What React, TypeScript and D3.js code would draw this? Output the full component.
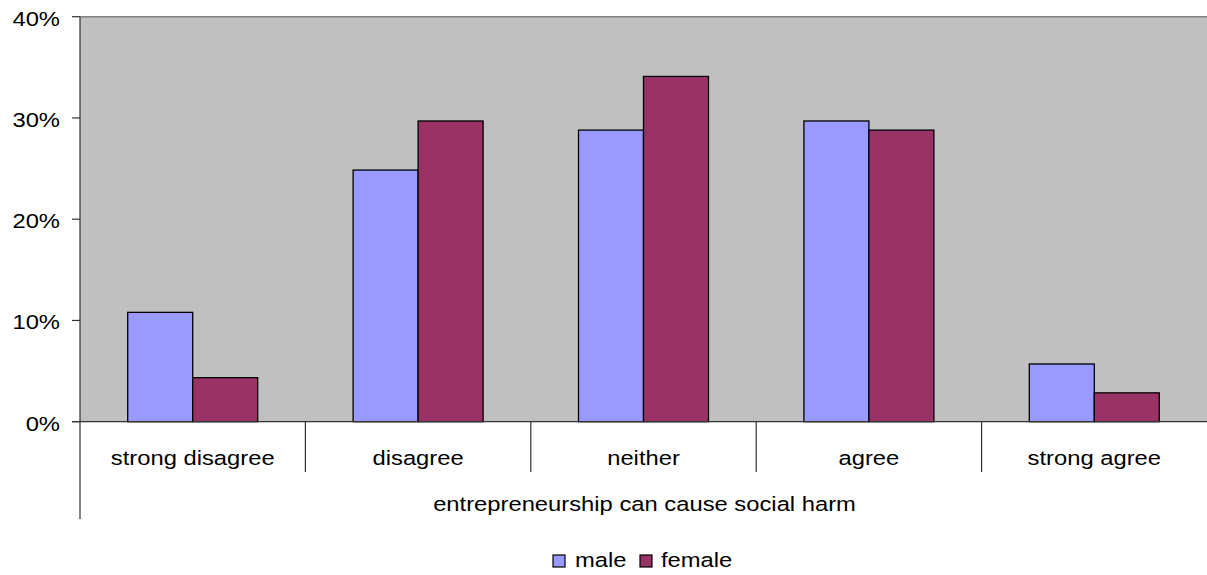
import React from "react";
import * as d3 from "d3";

const categories = ["strong disagree", "disagree", "neither", "agree", "strong agree"];
const seriesNames = ["male", "female"];
const maleValues = [10.8, 24.85, 28.8, 29.7, 5.7];
const femaleValues = [4.35, 29.7, 34.1, 28.8, 2.85];
const yTicks = [0, 10, 20, 30, 40];
const axisTitle = "entrepreneurship can cause social harm";
const colors = ["#9999FF", "#993366"];

const W = 1207;
const H = 575;
const left = 80;
const right = 1207;
const top = 16.7;
const bottom = 421.7;
const SX = 1.16;
const FS = 20.5;
const FONT = "'Liberation Sans', Arial, sans-serif";

function T({ x, y, anchor, children }: { x: number; y: number; anchor: string; children: any }) {
  return (
    <text
      transform={`translate(${x},${y}) scale(${SX},1)`}
      textAnchor={anchor}
      fontFamily={FONT}
      fontSize={FS}
      fill="#000"
    >
      {children}
    </text>
  );
}

export default function App() {
  const x = d3.scaleBand<string>().domain(categories).range([left, right]).padding(0);
  const inner = d3
    .scaleBand<string>()
    .domain(seriesNames)
    .range([0, x.bandwidth()])
    .paddingInner(0)
    .paddingOuter(0.734);
  const y = d3.scaleLinear().domain([0, 40]).range([bottom, top]);
  const series = [maleValues, femaleValues];
  const boundaries = categories.slice(1).map((c) => x(c) as number);

  const legendY = 555;
  const legendItems = [
    { name: "male", sx: 553, tx: 575 },
    { name: "female", sx: 640, tx: 661 },
  ];

  return (
    <svg width={W} height={H} style={{ position: "absolute", left: 0, top: 0 }}>
      <rect x={left} y={top} width={right - left} height={bottom - top} fill="#C0C0C0" />
      <line x1={left} x2={right} y1={top} y2={top} stroke="#808080" strokeWidth={1.5} />
      {categories.map((c, i) =>
        series.map((vals, s) => {
          const bx = (x(c) as number) + (inner(seriesNames[s]) as number);
          return (
            <rect
              key={`${c}-${s}`}
              x={bx}
              y={y(vals[i])}
              width={inner.bandwidth()}
              height={bottom - y(vals[i])}
              fill={colors[s]}
              stroke="#000"
              strokeWidth={1.3}
            />
          );
        })
      )}
      <line x1={left} x2={left} y1={top} y2={519} stroke="#333" strokeWidth={1.2} />
      <line x1={72} x2={right} y1={bottom} y2={bottom} stroke="#333" strokeWidth={1.2} />
      {yTicks.map((t) => (
        <g key={t}>
          <line x1={72} x2={left} y1={y(t)} y2={y(t)} stroke="#333" strokeWidth={1.2} />
          <T x={60} y={y(t) + 9} anchor="end">{`${t}%`}</T>
        </g>
      ))}
      {boundaries.map((b, i) => (
        <line key={i} x1={b} x2={b} y1={bottom} y2={472} stroke="#333" strokeWidth={1.2} />
      ))}
      {categories.map((c) => (
        <T key={c} x={(x(c) as number) + x.bandwidth() / 2} y={465} anchor="middle">
          {c}
        </T>
      ))}
      <T x={(left + right) / 2 + 1} y={511} anchor="middle">
        {axisTitle}
      </T>
      {legendItems.map((it, i) => (
        <g key={it.name}>
          <rect x={it.sx} y={legendY} width={12} height={12} fill={colors[i]} stroke="#000" strokeWidth={1.2} />
          <T x={it.tx} y={567} anchor="start">{it.name}</T>
        </g>
      ))}
    </svg>
  );
}
